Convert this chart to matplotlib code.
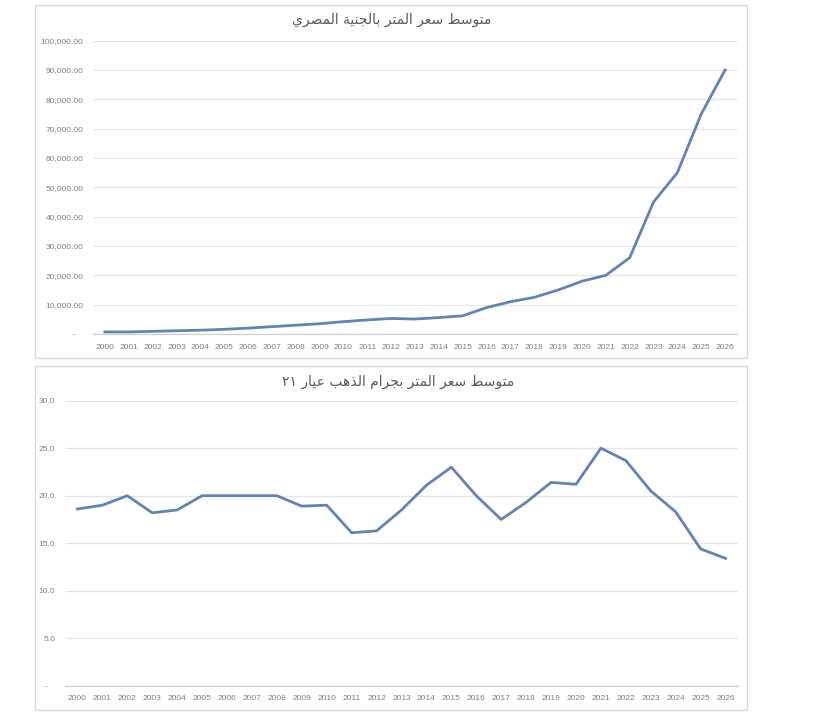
import matplotlib
matplotlib.use("Agg")
import matplotlib.pyplot as plt
from matplotlib.patches import Rectangle
from matplotlib.ticker import FuncFormatter

years = list(range(2000, 2027))

# average price per meter, in EGP
price_egp = [700, 700, 900, 1100, 1300, 1600, 2000, 2500, 3000, 3500,
             4200, 4800, 5300, 5100, 5600, 6200, 9000, 11000, 12500, 15000,
             18000, 20000, 26000, 45000, 55000, 75000, 90000]

# average price per meter, in grams of 21k gold
price_gold = [18.6, 19.0, 20.0, 18.2, 18.5, 20.0, 20.0, 20.0, 20.0, 18.9,
              19.0, 16.1, 16.3, 18.5, 21.1, 23.0, 20.0, 17.5, 19.3, 21.4,
              21.2, 25.0, 23.7, 20.5, 18.3, 14.4, 13.4]

title_egp = "متوسط سعر المتر بالجنية المصري"
title_gold = "متوسط سعر المتر بجرام الذهب عيار ٢١"

# matplotlib has no arabic shaping, so map letters to presentation forms
FORMS = {
    'ا': ('\uFE8D', '\uFE8E', None, None),
    'ب': ('\uFE8F', '\uFE90', '\uFE91', '\uFE92'),
    'ة': ('\uFE93', '\uFE94', None, None),
    'ت': ('\uFE95', '\uFE96', '\uFE97', '\uFE98'),
    'ج': ('\uFE9D', '\uFE9E', '\uFE9F', '\uFEA0'),
    'د': ('\uFEA9', '\uFEAA', None, None),
    'ذ': ('\uFEAB', '\uFEAC', None, None),
    'ر': ('\uFEAD', '\uFEAE', None, None),
    'س': ('\uFEB1', '\uFEB2', '\uFEB3', '\uFEB4'),
    'ص': ('\uFEB9', '\uFEBA', '\uFEBB', '\uFEBC'),
    'ط': ('\uFEC1', '\uFEC2', '\uFEC3', '\uFEC4'),
    'ع': ('\uFEC9', '\uFECA', '\uFECB', '\uFECC'),
    'ل': ('\uFEDD', '\uFEDE', '\uFEDF', '\uFEE0'),
    'م': ('\uFEE1', '\uFEE2', '\uFEE3', '\uFEE4'),
    'ن': ('\uFEE5', '\uFEE6', '\uFEE7', '\uFEE8'),
    'ه': ('\uFEE9', '\uFEEA', '\uFEEB', '\uFEEC'),
    'و': ('\uFEED', '\uFEEE', None, None),
    'ي': ('\uFEF1', '\uFEF2', '\uFEF3', '\uFEF4'),
}


def shape_word(word):
    if not any(c in FORMS for c in word):
        return word
    out = []
    for i, c in enumerate(word):
        f = FORMS.get(c)
        if f is None:
            out.append(c)
            continue
        prev = word[i - 1] if i > 0 else None
        nxt = word[i + 1] if i + 1 < len(word) else None
        join_prev = prev in FORMS and FORMS[prev][2] is not None
        join_next = nxt in FORMS and f[2] is not None
        if join_prev and join_next:
            out.append(f[3])
        elif join_prev:
            out.append(f[1])
        elif join_next:
            out.append(f[2])
        else:
            out.append(f[0])
    return ''.join(reversed(out))


def rtl(text):
    return ' '.join(shape_word(w) for w in reversed(text.split(' ')))


W, H = 819, 720
fig = plt.figure(figsize=(W / 100, H / 100), dpi=100)
fig.patch.set_facecolor('white')

line_color = '#6283b6'
grid_color = '#e6e6e6'
text_color = '#7f7f7f'


def px_axes(x0, y0, x1, y1):
    return fig.add_axes([x0 / W, 1 - y1 / H, (x1 - x0) / W, (y1 - y0) / H])


def panel(x0, y0, x1, y1):
    fig.patches.append(Rectangle((x0 / W, 1 - y1 / H), (x1 - x0) / W, (y1 - y0) / H,
                                 transform=fig.transFigure, fill=False,
                                 edgecolor='#d9d9d9', linewidth=1.0))


def style(ax, ymax, step, fmt):
    ax.set_xlim(-0.5, len(years) - 0.5)
    ax.set_ylim(0, ymax)
    ax.set_xticks(range(len(years)))
    ax.set_xticklabels([str(y) for y in years])
    ax.set_yticks([step * i for i in range(int(round(ymax / step)) + 1)])
    ax.yaxis.set_major_formatter(FuncFormatter(lambda v, p: '-   ' if v == 0 else fmt.format(v)))
    for s in ('top', 'right', 'left'):
        ax.spines[s].set_visible(False)
    ax.spines['bottom'].set_color('#d0d0d0')
    ax.spines['bottom'].set_linewidth(0.9)
    ax.grid(axis='y', color=grid_color, linewidth=0.9)
    ax.set_axisbelow(True)
    ax.tick_params(length=0, labelsize=6.0, labelcolor=text_color)
    ax.tick_params(axis='x', pad=7)
    ax.tick_params(axis='y', pad=7)
    for lab in ax.get_xticklabels() + ax.get_yticklabels():
        lab.set_family('Liberation Sans')


# top chart
panel(35, 5, 747, 358)
ax1 = px_axes(93, 40.7, 737, 334)
ax1.plot(range(len(years)), price_egp, color=line_color, linewidth=2.0)
style(ax1, 100000, 10000, '{:,.2f}')
fig.text(392 / W, 1 - 20 / H, rtl(title_egp), ha='center', va='center',
         fontsize=10, color='#595959', family=['DejaVu Sans'])

# bottom chart
panel(35, 366, 747, 710)
ax2 = px_axes(65, 400.7, 738, 685.7)
ax2.plot(range(len(years)), price_gold, color=line_color, linewidth=2.0)
style(ax2, 30, 5, '{:.1f}')
fig.text(398 / W, 1 - 382 / H, rtl(title_gold), ha='center', va='center',
         fontsize=10, color='#595959', family=['DejaVu Sans'])

fig.savefig('out.png', dpi=100, facecolor='white')
